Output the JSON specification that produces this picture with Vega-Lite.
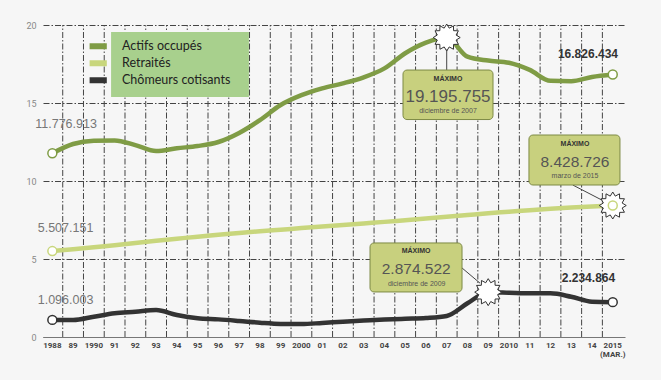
{
  "$schema": "https://vega.github.io/schema/vega-lite/v6.json",
  "width": 582,
  "height": 312,
  "autosize": "none",
  "padding": {"left": 43, "top": 25, "right": 36, "bottom": 43},
  "background": "#f6f6f6",
  "config": {
    "view": {"stroke": null},
    "font": "Liberation Sans",
    "locale": {"number": {"decimal": ",", "thousands": ".", "grouping": [3], "currency": ["", " €"]}}
  },
  "datasets": {
    "series": [
      {"series": "Actifs occupés", "year": 1988, "value": 11776913},
      {"series": "Actifs occupés", "year": 1989, "value": 12370000},
      {"series": "Actifs occupés", "year": 1990, "value": 12580000},
      {"series": "Actifs occupés", "year": 1991, "value": 12600000},
      {"series": "Actifs occupés", "year": 1992, "value": 12300000},
      {"series": "Actifs occupés", "year": 1993, "value": 11920000},
      {"series": "Actifs occupés", "year": 1994, "value": 12100000},
      {"series": "Actifs occupés", "year": 1995, "value": 12240000},
      {"series": "Actifs occupés", "year": 1996, "value": 12500000},
      {"series": "Actifs occupés", "year": 1997, "value": 13080000},
      {"series": "Actifs occupés", "year": 1998, "value": 13900000},
      {"series": "Actifs occupés", "year": 1999, "value": 14870000},
      {"series": "Actifs occupés", "year": 2000, "value": 15500000},
      {"series": "Actifs occupés", "year": 2001, "value": 15940000},
      {"series": "Actifs occupés", "year": 2002, "value": 16260000},
      {"series": "Actifs occupés", "year": 2003, "value": 16650000},
      {"series": "Actifs occupés", "year": 2004, "value": 17220000},
      {"series": "Actifs occupés", "year": 2005, "value": 18190000},
      {"series": "Actifs occupés", "year": 2006, "value": 18870000},
      {"series": "Actifs occupés", "year": 2007, "value": 19195755},
      {"series": "Actifs occupés", "year": 2008, "value": 17970000},
      {"series": "Actifs occupés", "year": 2009, "value": 17720000},
      {"series": "Actifs occupés", "year": 2010, "value": 17580000},
      {"series": "Actifs occupés", "year": 2011, "value": 17120000},
      {"series": "Actifs occupés", "year": 2012, "value": 16420000},
      {"series": "Actifs occupés", "year": 2013, "value": 16400000},
      {"series": "Actifs occupés", "year": 2014, "value": 16670000},
      {"series": "Actifs occupés", "year": 2015, "value": 16826434},
      {"series": "Retraités", "year": 1988, "value": 5507151},
      {"series": "Retraités", "year": 1989, "value": 5620000},
      {"series": "Retraités", "year": 1990, "value": 5750000},
      {"series": "Retraités", "year": 1991, "value": 5880000},
      {"series": "Retraités", "year": 1992, "value": 6020000},
      {"series": "Retraités", "year": 1993, "value": 6170000},
      {"series": "Retraités", "year": 1994, "value": 6300000},
      {"series": "Retraités", "year": 1995, "value": 6430000},
      {"series": "Retraités", "year": 1996, "value": 6550000},
      {"series": "Retraités", "year": 1997, "value": 6670000},
      {"series": "Retraités", "year": 1998, "value": 6780000},
      {"series": "Retraités", "year": 1999, "value": 6880000},
      {"series": "Retraités", "year": 2000, "value": 6980000},
      {"series": "Retraités", "year": 2001, "value": 7080000},
      {"series": "Retraités", "year": 2002, "value": 7180000},
      {"series": "Retraités", "year": 2003, "value": 7280000},
      {"series": "Retraités", "year": 2004, "value": 7380000},
      {"series": "Retraités", "year": 2005, "value": 7490000},
      {"series": "Retraités", "year": 2006, "value": 7600000},
      {"series": "Retraités", "year": 2007, "value": 7710000},
      {"series": "Retraités", "year": 2008, "value": 7820000},
      {"series": "Retraités", "year": 2009, "value": 7930000},
      {"series": "Retraités", "year": 2010, "value": 8030000},
      {"series": "Retraités", "year": 2011, "value": 8130000},
      {"series": "Retraités", "year": 2012, "value": 8220000},
      {"series": "Retraités", "year": 2013, "value": 8300000},
      {"series": "Retraités", "year": 2014, "value": 8370000},
      {"series": "Retraités", "year": 2015, "value": 8428726},
      {"series": "Chômeurs cotisants", "year": 1988, "value": 1096003},
      {"series": "Chômeurs cotisants", "year": 1989, "value": 1090000},
      {"series": "Chômeurs cotisants", "year": 1990, "value": 1300000},
      {"series": "Chômeurs cotisants", "year": 1991, "value": 1520000},
      {"series": "Chômeurs cotisants", "year": 1992, "value": 1620000},
      {"series": "Chômeurs cotisants", "year": 1993, "value": 1730000},
      {"series": "Chômeurs cotisants", "year": 1994, "value": 1410000},
      {"series": "Chômeurs cotisants", "year": 1995, "value": 1200000},
      {"series": "Chômeurs cotisants", "year": 1996, "value": 1130000},
      {"series": "Chômeurs cotisants", "year": 1997, "value": 1030000},
      {"series": "Chômeurs cotisants", "year": 1998, "value": 920000},
      {"series": "Chômeurs cotisants", "year": 1999, "value": 840000},
      {"series": "Chômeurs cotisants", "year": 2000, "value": 830000},
      {"series": "Chômeurs cotisants", "year": 2001, "value": 900000},
      {"series": "Chômeurs cotisants", "year": 2002, "value": 980000},
      {"series": "Chômeurs cotisants", "year": 2003, "value": 1050000},
      {"series": "Chômeurs cotisants", "year": 2004, "value": 1120000},
      {"series": "Chômeurs cotisants", "year": 2005, "value": 1170000},
      {"series": "Chômeurs cotisants", "year": 2006, "value": 1220000},
      {"series": "Chômeurs cotisants", "year": 2007, "value": 1350000},
      {"series": "Chômeurs cotisants", "year": 2008, "value": 2160000},
      {"series": "Chômeurs cotisants", "year": 2009, "value": 2874522},
      {"series": "Chômeurs cotisants", "year": 2010, "value": 2840000},
      {"series": "Chômeurs cotisants", "year": 2011, "value": 2800000},
      {"series": "Chômeurs cotisants", "year": 2012, "value": 2800000},
      {"series": "Chômeurs cotisants", "year": 2013, "value": 2580000},
      {"series": "Chômeurs cotisants", "year": 2014, "value": 2260000},
      {"series": "Chômeurs cotisants", "year": 2015, "value": 2234864}
    ],
    "maxima": [
      {"series": "Actifs occupés", "year": 2007, "value": 19195755, "date": "diciembre de 2007"},
      {"series": "Retraités", "year": 2015, "value": 8428726, "date": "marzo de 2015"},
      {"series": "Chômeurs cotisants", "year": 2009, "value": 2874522, "date": "diciembre de 2009"}
    ]
  },
  "layer": [
    {
      "data": {"name": "series"},
      "transform": [{"filter": "datum.series == 'Actifs occupés' && datum.year < 2015"}],
      "mark": {"type": "rule", "stroke": "#444", "strokeWidth": 1, "strokeDash": [6, 2, 1.5, 2], "xOffset": 10.38},
      "encoding": {
        "x": {
          "field": "year", "type": "quantitative",
          "scale": {"domain": [1987.55, 2015.59], "nice": false, "zero": false},
          "axis": {
            "orient": "bottom", "title": null, "labels": false,
            "grid": false, "ticks": false, "domain": true, "domainColor": "#777"
          }
        },
        "y": {
          "datum": 0, "type": "quantitative",
          "scale": {"domain": [0, 20000000], "nice": false},
          "axis": {
            "title": null,
            "values": [0, 5000000, 10000000, 15000000, 20000000],
            "labelExpr": "toString(datum.value / 1000000)",
            "grid": true, "gridDash": [6, 2, 1.5, 2], "gridColor": "#444", "gridWidth": 1,
            "domain": false, "ticks": false,
            "labelColor": "#888", "labelFontSize": 9, "labelFont": "Roboto", "labelPadding": 7
          }
        },
        "y2": {"datum": 20000000}
      }
    },
    {
      "data": {"name": "series"},
      "transform": [
        {"filter": "datum.series == 'Actifs occupés'"},
        {"calculate": "(datum.year == 1988 || datum.year % 10 == 0 || datum.year == 2015) ? toString(datum.year) : slice(toString(datum.year), 2)", "as": "label"}
      ],
      "mark": {"type": "text", "font": "Roboto", "fontWeight": "bold", "fontSize": 8, "color": "#444", "dy": 9, "baseline": "middle"},
      "encoding": {
        "x": {"field": "year", "type": "quantitative"},
        "y": {"datum": 0, "type": "quantitative"},
        "text": {"field": "label"}
      }
    },
    {
      "data": {"name": "series"},
      "transform": [{"filter": "datum.series == 'Actifs occupés' && datum.year == 2015"}],
      "mark": {"type": "text", "text": "(MAR.)", "font": "Roboto", "fontWeight": "bold", "fontSize": 8, "color": "#444", "dy": 18, "baseline": "middle"},
      "encoding": {
        "x": {"field": "year", "type": "quantitative"},
        "y": {"datum": 0, "type": "quantitative"}
      }
    },
    {
      "data": {"values": [{"item": "legend box"}]},
      "mark": {"type": "rect", "fill": "#a8d08d"},
      "encoding": {
        "x": {"datum": 1990.83, "type": "quantitative"},
        "x2": {"datum": 1997.47},
        "y": {"datum": 19550000, "type": "quantitative"},
        "y2": {"datum": 15380000}
      }
    },
    {
      "data": {"name": "series"},
      "mark": {"type": "line", "interpolate": "monotone", "strokeWidth": 4.5},
      "encoding": {
        "x": {"field": "year", "type": "quantitative"},
        "y": {"field": "value", "type": "quantitative"},
        "color": {
          "field": "series", "type": "nominal",
          "scale": {"domain": ["Actifs occupés", "Retraités", "Chômeurs cotisants"], "range": ["#7f9c45", "#c8d67c", "#333333"]},
          "legend": {
            "orient": "none", "legendX": 46.5, "legendY": 13, "title": null,
            "symbolType": "M-1.6,0H1.6", "symbolStrokeWidth": 6, "symbolSize": 121,
            "labelFont": "Lato", "labelFontSize": 12.5, "labelColor": "#222",
            "labelOffset": 15.5, "rowPadding": 0, "padding": 0, "clipHeight": 16.7
          }
        }
      }
    },
    {
      "data": {"name": "maxima"},
      "mark": {"type": "point", "shape": "M0,-1L0.186,-0.695L0.5,-0.866L0.509,-0.509L0.866,-0.5L0.695,-0.186L1,0L0.695,0.186L0.866,0.5L0.509,0.509L0.5,0.866L0.186,0.695L0,1L-0.186,0.695L-0.5,0.866L-0.509,0.509L-0.866,0.5L-0.695,0.186L-1,0L-0.695,-0.186L-0.866,-0.5L-0.509,-0.509L-0.5,-0.866L-0.186,-0.695Z", "size": 729, "filled": true, "fill": "white", "stroke": "#333", "strokeWidth": 1, "opacity": 1},
      "encoding": {
        "x": {"field": "year", "type": "quantitative"},
        "y": {"field": "value", "type": "quantitative"}
      }
    },
    {
      "data": {"name": "series"},
      "transform": [{"filter": "datum.year == 1988 || datum.year == 2015"}],
      "mark": {"type": "point", "shape": "circle", "size": 80, "filled": false, "fill": "white", "fillOpacity": 1, "strokeWidth": 1.5, "opacity": 1},
      "encoding": {
        "x": {"field": "year", "type": "quantitative"},
        "y": {"field": "value", "type": "quantitative"},
        "color": {"field": "series", "type": "nominal"}
      }
    },
    {
      "data": {"name": "series"},
      "transform": [{"filter": "datum.year == 1988 && datum.series == 'Actifs occupés'"}],
      "mark": {"type": "text", "fontSize": 12.5, "color": "#777", "dx": 13.7, "dy": -29.3, "baseline": "middle"},
      "encoding": {
        "x": {"field": "year", "type": "quantitative"},
        "y": {"field": "value", "type": "quantitative"},
        "text": {"field": "value", "type": "quantitative", "format": ",d"}
      }
    },
    {
      "data": {"name": "series"},
      "transform": [{"filter": "datum.year == 1988 && datum.series == 'Retraités'"}],
      "mark": {"type": "text", "fontSize": 12.5, "color": "#777", "dx": 13.2, "dy": -23, "baseline": "middle"},
      "encoding": {
        "x": {"field": "year", "type": "quantitative"},
        "y": {"field": "value", "type": "quantitative"},
        "text": {"field": "value", "type": "quantitative", "format": ",d"}
      }
    },
    {
      "data": {"name": "series"},
      "transform": [{"filter": "datum.year == 1988 && datum.series == 'Chômeurs cotisants'"}],
      "mark": {"type": "text", "fontSize": 12.5, "color": "#777", "dx": 13.2, "dy": -20, "baseline": "middle"},
      "encoding": {
        "x": {"field": "year", "type": "quantitative"},
        "y": {"field": "value", "type": "quantitative"},
        "text": {"field": "value", "type": "quantitative", "format": ",d"}
      }
    },
    {
      "data": {"name": "series"},
      "transform": [{"filter": "datum.year == 2015 && datum.series == 'Actifs occupés'"}],
      "mark": {"type": "text", "fontSize": 12, "fontWeight": "bold", "color": "#333", "dx": -24.8, "dy": -21, "baseline": "middle"},
      "encoding": {
        "x": {"field": "year", "type": "quantitative"},
        "y": {"field": "value", "type": "quantitative"},
        "text": {"field": "value", "type": "quantitative", "format": ",d"}
      }
    },
    {
      "data": {"name": "series"},
      "transform": [{"filter": "datum.year == 2015 && datum.series == 'Chômeurs cotisants'"}],
      "mark": {"type": "text", "fontSize": 12, "fontWeight": "bold", "color": "#333", "dx": -24.3, "dy": -24, "baseline": "middle"},
      "encoding": {
        "x": {"field": "year", "type": "quantitative"},
        "y": {"field": "value", "type": "quantitative"},
        "text": {"field": "value", "type": "quantitative", "format": ",d"}
      }
    },
    {
      "data": {"name": "maxima"},
      "transform": [{"filter": "datum.series == 'Actifs occupés'"}],
      "encoding": {
        "x": {"field": "year", "type": "quantitative"},
        "y": {"field": "value", "type": "quantitative"}
      },
      "layer": [
        {"mark": {"type": "rule", "stroke": "#444", "strokeWidth": 1, "yOffset": 12, "y2Offset": 32.5},
         "encoding": {"x2": {"field": "year"}, "y2": {"field": "value"}}},
        {"mark": {"type": "rect", "fill": "#c8d07e", "stroke": "#7d8a45", "strokeWidth": 1, "cornerRadius": 4, "xOffset": -43.7, "x2Offset": 46.3, "yOffset": 32.5, "y2Offset": 82},
         "encoding": {"x2": {"field": "year"}, "y2": {"field": "value"}}},
        {"mark": {"type": "text", "text": "MÁXIMO", "fontWeight": "bold", "fontSize": 7, "color": "#333", "dx": 1.3, "dy": 41.5, "baseline": "middle"}},
        {"mark": {"type": "text", "fontSize": 17, "color": "#555", "dx": 1.3, "dy": 59, "baseline": "middle"},
         "encoding": {"text": {"field": "value", "type": "quantitative", "format": ",d"}}},
        {"mark": {"type": "text", "fontSize": 7, "color": "#555", "dx": 1.3, "dy": 73.5, "baseline": "middle"},
         "encoding": {"text": {"field": "date"}}}
      ]
    },
    {
      "data": {"name": "maxima"},
      "transform": [{"filter": "datum.series == 'Retraités'"}],
      "encoding": {
        "x": {"field": "year", "type": "quantitative"},
        "y": {"field": "value", "type": "quantitative"}
      },
      "layer": [
        {"mark": {"type": "rule", "stroke": "#444", "strokeWidth": 1, "xOffset": -40, "yOffset": -20.5, "x2Offset": -11, "y2Offset": -5.5},
         "encoding": {"x2": {"field": "year"}, "y2": {"field": "value"}}},
        {"mark": {"type": "rect", "fill": "#c8d07e", "stroke": "#7d8a45", "strokeWidth": 1, "cornerRadius": 4, "xOffset": -83.8, "x2Offset": 7.2, "yOffset": -70.5, "y2Offset": -20.5},
         "encoding": {"x2": {"field": "year"}, "y2": {"field": "value"}}},
        {"mark": {"type": "text", "text": "MÁXIMO", "fontWeight": "bold", "fontSize": 7, "color": "#333", "dx": -37.8, "dy": -61.5, "baseline": "middle"}},
        {"mark": {"type": "text", "fontSize": 15.5, "color": "#555", "dx": -37.8, "dy": -44, "baseline": "middle"},
         "encoding": {"text": {"field": "value", "type": "quantitative", "format": ",d"}}},
        {"mark": {"type": "text", "fontSize": 7, "color": "#555", "dx": -37.8, "dy": -30, "baseline": "middle"},
         "encoding": {"text": {"field": "date"}}}
      ]
    },
    {
      "data": {"name": "maxima"},
      "transform": [{"filter": "datum.series == 'Chômeurs cotisants'"}],
      "encoding": {
        "x": {"field": "year", "type": "quantitative"},
        "y": {"field": "value", "type": "quantitative"}
      },
      "layer": [
        {"mark": {"type": "rule", "stroke": "#444", "strokeWidth": 1, "xOffset": -26.2, "yOffset": -24.2, "x2Offset": -8.2, "y2Offset": -9},
         "encoding": {"x2": {"field": "year"}, "y2": {"field": "value"}}},
        {"mark": {"type": "rect", "fill": "#c8d07e", "stroke": "#7d8a45", "strokeWidth": 1, "cornerRadius": 4, "xOffset": -118.2, "x2Offset": -26.2, "yOffset": -49.2, "y2Offset": -0.2},
         "encoding": {"x2": {"field": "year"}, "y2": {"field": "value"}}},
        {"mark": {"type": "text", "text": "MÁXIMO", "fontWeight": "bold", "fontSize": 7, "color": "#333", "dx": -72.2, "dy": -41.2, "baseline": "middle"}},
        {"mark": {"type": "text", "fontSize": 15.5, "color": "#555", "dx": -72, "dy": -23.2, "baseline": "middle"},
         "encoding": {"text": {"field": "value", "type": "quantitative", "format": ",d"}}},
        {"mark": {"type": "text", "fontSize": 7, "color": "#555", "dx": -71.5, "dy": -8.2, "baseline": "middle"},
         "encoding": {"text": {"field": "date"}}}
      ]
    }
  ]
}
